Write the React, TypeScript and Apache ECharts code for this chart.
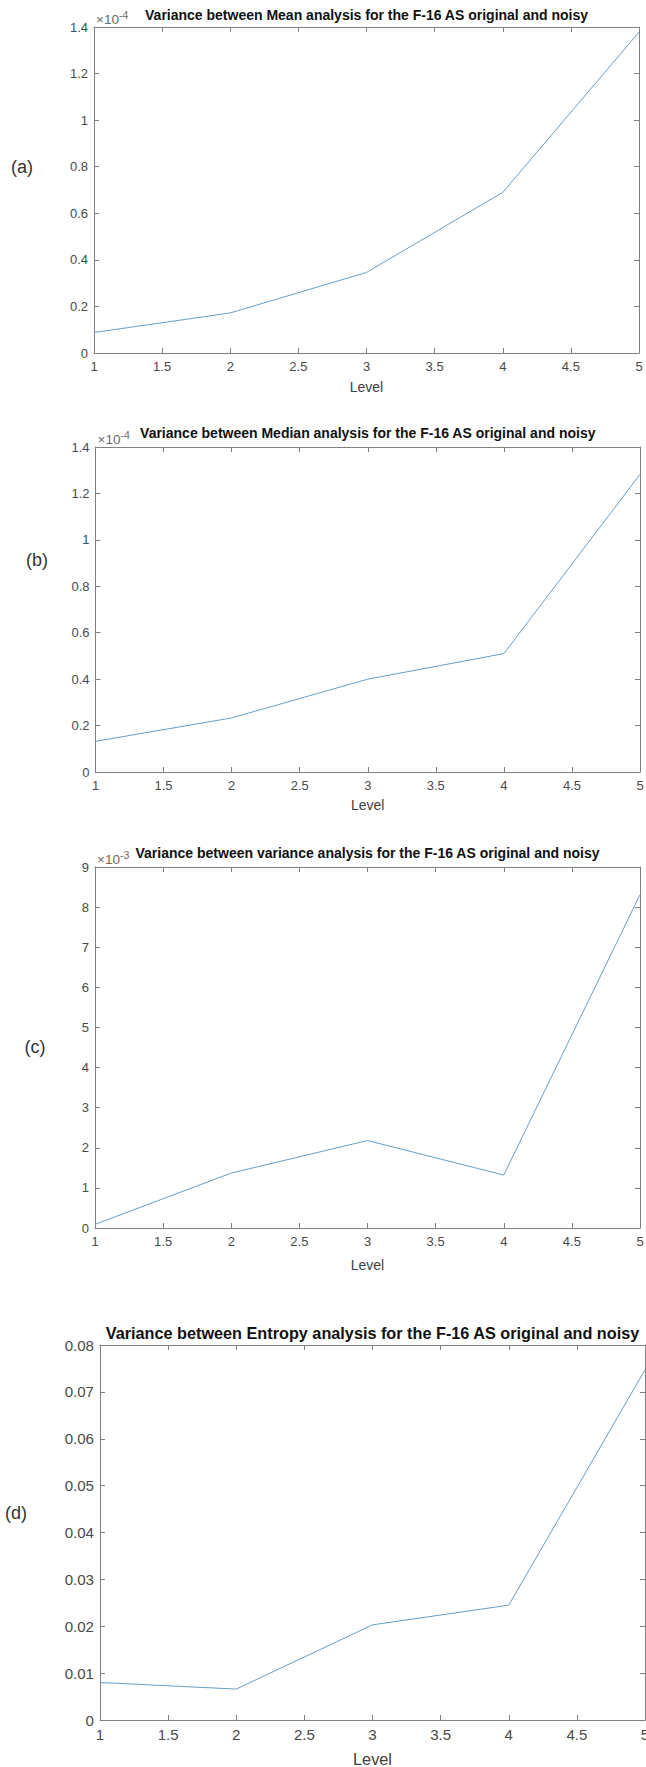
import React, { useEffect, useRef } from "react";
import * as echarts from "echarts";

// ---- data ----
const levels = [1, 2, 3, 4, 5];
const xTicks = [1, 1.5, 2, 2.5, 3, 3.5, 4, 4.5, 5];

// values in the axis' displayed units
const meanVariance = [0.088, 0.172, 0.346, 0.69, 1.378]; // ×10^-4
const medianVariance = [0.132, 0.233, 0.4, 0.51, 1.282]; // ×10^-4
const varianceVariance = [0.09, 1.37, 2.18, 1.32, 8.31]; // ×10^-3
const entropyVariance = [0.008, 0.0066, 0.0203, 0.0245, 0.0747];

const titles = [
  "Variance between Mean analysis for the F-16 AS original and noisy",
  "Variance between Median analysis for the F-16 AS original and noisy",
  "Variance between variance analysis for the F-16 AS original and noisy",
  "Variance between Entropy analysis for the F-16 AS original and noisy",
];
const panelLetters = ["(a)", "(b)", "(c)", "(d)"];
const yMaxes = [1.4, 1.4, 9, 0.08];
const ySteps = [0.2, 0.2, 1, 0.01];
const exponents = ["-4", "-4", "-3", ""];
const xAxisName = "Level";

const seriesValues = [meanVariance, medianVariance, varianceVariance, entropyVariance];

// ---- layout / style ----
const FONT = "'Liberation Sans', Arial, Helvetica, sans-serif";
const grids = [
  { left: 94, top: 27, width: 545, height: 326 },
  { left: 95.5, top: 447, width: 544.5, height: 325 },
  { left: 95, top: 867, width: 545, height: 361 },
  { left: 100, top: 1345, width: 545, height: 375 },
];
const scales = [1, 1, 1, 1.16];
const titleGaps = [5, 7, 7, 4];
const nameGaps = [27, 26, 30, 31];
const letterPos = [
  [22, 167],
  [37, 560],
  [35, 1047],
  [16, 1513],
];
const AXIS_COLOR = "#808080";
const LABEL_COLOR = "#4a4a4a";
const LINE_COLOR = "#6a9ec4";
const EXP_COLOR = "#6a6a6a";

export default function App() {
  const ref = useRef<HTMLDivElement>(null);
  useEffect(() => {
    if (!ref.current) return;
    const chart = echarts.init(ref.current, undefined, { renderer: "svg" });
    const xBottom: any[] = [];
    const xTop: any[] = [];
    const yLeft: any[] = [];
    const yRight: any[] = [];
    grids.forEach((g, i) => {
      const s = scales[i];
      const common = {
        gridIndex: i,
        type: "value",
        min: xTicks[0],
        max: xTicks[xTicks.length - 1],
        interval: xTicks[1] - xTicks[0],
        splitLine: { show: false },
        axisLine: { show: true, onZero: false, lineStyle: { color: AXIS_COLOR, width: 1 } },
        axisTick: { show: true, inside: true, length: 5, lineStyle: { color: AXIS_COLOR } },
      };
      xBottom.push({
        ...common,
        position: "bottom",
        name: xAxisName,
        nameLocation: "middle",
        nameGap: nameGaps[i],
        nameTextStyle: { fontSize: 14 * s, color: "#404040", fontFamily: FONT },
        axisLabel: { show: true, fontSize: 13 * s, color: LABEL_COLOR, margin: 7, fontFamily: FONT },
      });
      xTop.push({
        ...common,
        position: "top",
        name: titles[i],
        nameLocation: "middle",
        nameGap: titleGaps[i],
        nameTextStyle: { fontSize: 14 * s, fontWeight: "bold", color: "#111", fontFamily: FONT },
        axisLabel: { show: false },
      });
      const yCommon = {
        gridIndex: i,
        type: "value",
        min: 0,
        max: yMaxes[i],
        interval: ySteps[i],
        splitLine: { show: false },
        axisLine: { show: true, onZero: false, lineStyle: { color: AXIS_COLOR, width: 1 } },
        axisTick: { show: true, inside: true, length: 5, lineStyle: { color: AXIS_COLOR } },
      };
      yLeft.push({
        ...yCommon,
        position: "left",
        name: exponents[i] ? `{x|×10}{e|${exponents[i]}}` : "",
        nameLocation: "end",
        nameGap: 1,
        nameTextStyle: {
          align: "left",
          verticalAlign: "bottom",
          padding: [0, 0, 0, 2],
          color: EXP_COLOR,
          fontFamily: FONT,
          rich: {
            x: { fontSize: 13.5, color: EXP_COLOR, fontFamily: FONT, lineHeight: 17, verticalAlign: "bottom" },
            e: { fontSize: 10.5, color: EXP_COLOR, fontFamily: FONT, lineHeight: 17, verticalAlign: "top" },
          },
        },
        axisLabel: { show: true, fontSize: 13 * s, color: LABEL_COLOR, margin: 6, fontFamily: FONT },
      });
      yRight.push({
        ...yCommon,
        position: "right",
        axisLabel: { show: false },
      });
    });

    const option: any = {
      animation: false,
      backgroundColor: "#ffffff",
      textStyle: { fontFamily: FONT },
      grid: grids.map((g) => ({ ...g, containLabel: false, outerBoundsMode: "none" })),
      xAxis: [...xBottom, ...xTop],
      yAxis: [...yLeft, ...yRight],
      series: seriesValues.map((vals, i) => ({
        type: "line",
        xAxisIndex: i,
        yAxisIndex: i,
        data: levels.map((lv, j) => [lv, vals[j]]),
        symbol: "none",
        lineStyle: { color: LINE_COLOR, width: 1 },
        silent: true,
      })),
      graphic: panelLetters.map((t, i) => ({
        type: "text",
        x: letterPos[i][0],
        y: letterPos[i][1],
        style: {
          text: t,
          fontSize: 18,
          fontFamily: FONT,
          fill: "#333",
          align: "center",
          verticalAlign: "middle",
        },
      })),
    };
    chart.setOption(option);
    return () => chart.dispose();
  }, []);
  return (
    <div
      ref={ref}
      style={{ position: "absolute", left: 0, top: 0, width: 646, height: 1767, background: "#fff" }}
    />
  );
}
